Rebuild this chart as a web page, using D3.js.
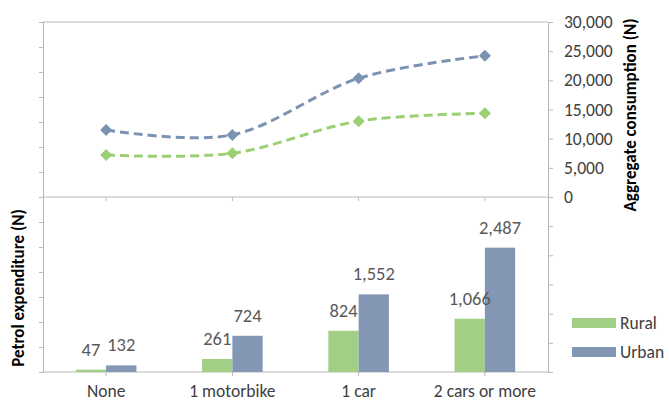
<!DOCTYPE html>
<html>
<head>
<meta charset="utf-8">
<script src="https://cdn.jsdelivr.net/npm/d3@7"></script>
<style>
  html, body { margin: 0; padding: 0; background: #ffffff; }
  svg { display: block; font-family: Carlito, Lato, "Open Sans", sans-serif; }
</style>
</head>
<body>
<svg id="chart" width="669" height="402"></svg>
<script>
// Household groups by vehicle ownership
const categories = ["None", "1 motorbike", "1 car", "2 cars or more"];
const seriesNames = ["Rural", "Urban"];

// Aggregate consumption (N) — dashed lines, upper panel
const consumptionRural = [7200, 7500, 13000, 14350];
const consumptionUrban = [11500, 10650, 20350, 24200];

// Petrol expenditure (N) — bars, lower panel
const petrolRural = [47, 261, 824, 1066];
const petrolUrban = [132, 724, 1552, 2487];

// Axis ticks
const consumptionTicks = [0, 5000, 10000, 15000, 20000, 25000, 30000];
const petrolTicks = [0, 500, 1000, 1500, 2000, 2500, 3000, 3500];

const colors = { Rural: "#a1cf86", Urban: "#8397b4" };
const lineColors = { Rural: "#9acf74", Urban: "#7c92b2" };

const svg = d3.select("#chart");
const left = 43, right = 548;
const topPanel = { y0: 22, y1: 197 };
const botPanel = { y0: 197, y1: 372 };
const frameColor = "#b8b8b8";
const labelFont = "Carlito, Lato, sans-serif";

const x = d3.scaleBand().domain(categories).range([left, right]).padding(0);
const xc = d => x(d) + x.bandwidth() / 2;

const yCons = d3.scaleLinear().domain([0, 30000]).range([topPanel.y1, topPanel.y0]);
const yTopLeft = d3.scaleLinear().domain([0, 3500]).range([topPanel.y1, topPanel.y0]);
const yPetrol = d3.scaleLinear().domain([0, 3500]).range([botPanel.y1, botPanel.y0]);
const yBotRight = d3.scaleLinear().domain([0, 30000]).range([botPanel.y1, botPanel.y0]);

function styleAxis(g) {
  g.select(".domain").attr("stroke", frameColor).attr("stroke-width", 1);
  g.selectAll(".tick line").attr("stroke", frameColor).attr("stroke-width", 1);
}

// ---------- frames ----------
svg.append("line").attr("x1", left).attr("x2", right).attr("y1", topPanel.y0).attr("y2", topPanel.y0)
  .attr("stroke", frameColor);

// left axes (unlabelled)
svg.append("g").attr("transform", `translate(${left},0)`)
  .call(d3.axisLeft(yTopLeft).tickValues(petrolTicks).tickSize(4).tickFormat(""))
  .call(styleAxis);
svg.append("g").attr("transform", `translate(${left},0)`)
  .call(d3.axisLeft(yPetrol).tickValues(petrolTicks).tickSize(4).tickFormat(""))
  .call(styleAxis);

// right axes
const rightTop = svg.append("g").attr("transform", `translate(${right},0)`)
  .call(d3.axisRight(yCons).tickValues(consumptionTicks).tickSize(5).tickPadding(11)
    .tickFormat(d3.format(",")))
  .call(styleAxis);
rightTop.selectAll(".tick text")
  .attr("font-size", 17.5).attr("fill", "#404040")
  .attr("font-family", labelFont);
svg.append("g").attr("transform", `translate(${right},0)`)
  .call(d3.axisRight(yBotRight).tickValues(consumptionTicks).tickSize(5).tickFormat(""))
  .call(styleAxis);

// category axes with ticks at the band centres
const xAxis = d3.axisBottom(x).tickSize(4).tickFormat("");
svg.append("g").attr("transform", `translate(0,${topPanel.y1})`).call(xAxis).call(styleAxis)
  .call(g => g.select(".domain").attr("d", `M${left},0H${right}`));
const xBottom = svg.append("g").attr("transform", `translate(0,${botPanel.y1})`)
  .call(d3.axisBottom(x).tickSize(4).tickPadding(9)).call(styleAxis)
  .call(g => g.select(".domain").attr("d", `M${left},0H${right}`));
xBottom.selectAll(".tick text")
  .attr("font-size", 17.5).attr("fill", "#404040")
  .attr("font-family", labelFont);

// ---------- upper panel: consumption lines ----------
const consData = [
  { name: "Rural", values: consumptionRural },
  { name: "Urban", values: consumptionUrban }
];
const line = d3.line()
  .x((d, i) => xc(categories[i]))
  .y(d => yCons(d))
  .curve(d3.curveCardinal.tension(0));
const diamond = r => `M0,${-r}L${r},0L0,${r}L${-r},0Z`;

consData.forEach(s => {
  svg.append("path")
    .attr("d", line(s.values))
    .attr("fill", "none")
    .attr("stroke", lineColors[s.name])
    .attr("stroke-width", 3)
    .attr("stroke-dasharray", "9,5");
  svg.append("g").selectAll("path")
    .data(s.values)
    .join("path")
    .attr("transform", (d, i) => `translate(${xc(categories[i])},${yCons(d)})`)
    .attr("d", diamond(6))
    .attr("fill", lineColors[s.name]);
});

// ---------- lower panel: petrol bars ----------
const barW = x.bandwidth() * 0.24;
const petrolData = [];
categories.forEach((c, i) => {
  petrolData.push({ cat: c, series: "Rural", value: petrolRural[i], offset: -1 });
  petrolData.push({ cat: c, series: "Urban", value: petrolUrban[i], offset: 0 });
});

svg.append("g").selectAll("rect")
  .data(petrolData)
  .join("rect")
  .attr("x", d => xc(d.cat) + d.offset * barW)
  .attr("y", d => yPetrol(d.value))
  .attr("width", barW)
  .attr("height", d => yPetrol(0) - yPetrol(d.value))
  .attr("fill", d => colors[d.series]);

svg.append("g").selectAll("text")
  .data(petrolData)
  .join("text")
  .attr("x", d => xc(d.cat) + d.offset * barW + barW / 2)
  .attr("y", d => yPetrol(d.value) - 14)
  .attr("text-anchor", "middle")
  .attr("font-size", 18.5)
  .attr("fill", "#595959")
  .text(d => d3.format(",")(d.value));

// ---------- axis titles ----------
svg.append("text")
  .attr("transform", `translate(636,115) rotate(-90)`)
  .attr("text-anchor", "middle")
  .attr("font-size", 17)
  .attr("font-weight", "bold")
  .attr("fill", "#000")
  .text("Aggregate consumption (N)");

svg.append("text")
  .attr("transform", `translate(24,288) rotate(-90)`)
  .attr("text-anchor", "middle")
  .attr("font-size", 17)
  .attr("font-weight", "bold")
  .attr("fill", "#000")
  .text("Petrol expenditure (N)");

// ---------- legend ----------
const legend = svg.append("g").attr("transform", "translate(572,318)");
seriesNames.forEach((n, i) => {
  const g = legend.append("g").attr("transform", `translate(0,${i * 29})`);
  g.append("rect").attr("width", 44).attr("height", 10).attr("fill", colors[n]);
  g.append("text").attr("x", 48).attr("y", 5).attr("dy", "0.35em")
    .attr("font-size", 17.5).attr("fill", "#404040").text(n);
});
</script>
</body>
</html>
